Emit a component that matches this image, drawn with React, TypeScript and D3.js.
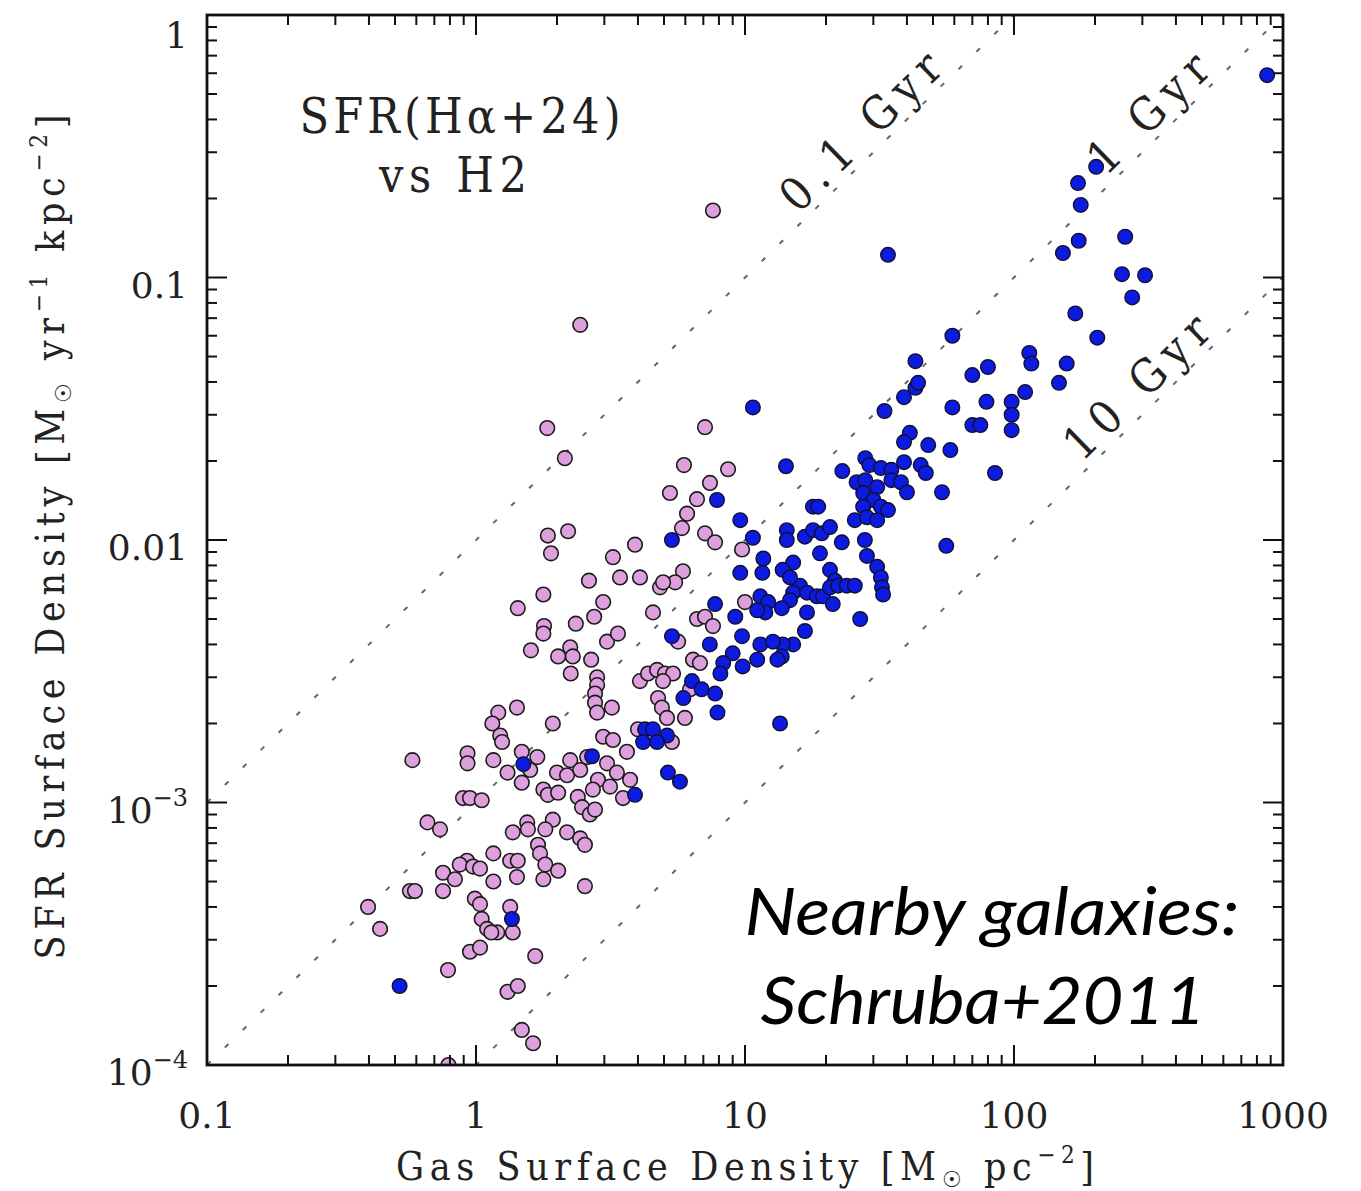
import React from 'react';
import * as d3 from 'd3';

// [gas surface density (Msun/pc^2), SFR surface density (Msun/yr/kpc^2)]
const pinkPoints: [number, number][] = [
  [7.6, 0.18], [2.44, 0.066], [1.84, 0.0267], [2.14, 0.0205], [1.85, 0.0104], [2.2, 0.0108],
  [1.9, 0.0089], [3.23, 0.0086], [2.63, 0.007], [3.43, 0.0072], [1.78, 0.0062], [1.43, 0.0055],
  [2.97, 0.0058], [2.75, 0.0051], [2.35, 0.0048], [1.79, 0.0047], [1.78, 0.0044], [3.07, 0.0041],
  [3.37, 0.0044], [1.6, 0.0038], [2.24, 0.0039], [2.29, 0.0036], [2.02, 0.0036], [2.68, 0.0035],
  [2.25, 0.0031], [2.82, 0.003], [2.82, 0.0028], [2.77, 0.0026], [3.2, 0.0023], [2.77, 0.0024],
  [2.82, 0.0022], [1.21, 0.0022], [1.42, 0.0023], [1.15, 0.002], [1.23, 0.0018], [1.25, 0.0017],
  [1.93, 0.002], [0.58, 0.00145], [0.93, 0.00154], [0.93, 0.00141], [1.16, 0.00145], [1.48, 0.00156],
  [1.69, 0.00149], [1.31, 0.0013], [1.59, 0.00133], [1.48, 0.00119], [2.0, 0.0013], [2.18, 0.00127],
  [2.24, 0.00145], [2.44, 0.00133], [2.59, 0.00149], [2.97, 0.00178], [3.23, 0.00173], [3.07, 0.00141],
  [3.34, 0.0013], [2.84, 0.00122], [3.15, 0.00115], [1.78, 0.00112], [1.85, 0.00107], [2.02, 0.00109],
  [2.39, 0.00105], [2.48, 0.00096], [2.65, 0.0009], [0.895, 0.00104], [0.95, 0.00104], [1.05, 0.00102],
  [0.66, 0.00084], [0.735, 0.00079], [1.37, 0.00077], [1.55, 0.00084], [1.56, 0.00079], [1.93, 0.00086],
  [1.81, 0.00079], [2.18, 0.00077], [2.44, 0.00073], [2.54, 0.00069], [1.7, 0.00069], [1.73, 0.00064],
  [1.16, 0.00064], [0.926, 0.0006], [0.87, 0.00058], [0.975, 0.00057], [1.035, 0.00056], [0.754, 0.00054],
  [0.835, 0.00051], [1.34, 0.0006], [1.43, 0.0006], [1.81, 0.00058], [2.02, 0.00055], [1.16, 0.0005],
  [1.42, 0.00052], [1.78, 0.00051], [0.754, 0.00046], [2.54, 0.00048], [0.568, 0.00046], [0.593, 0.00046],
  [0.397, 0.0004], [0.44, 0.00033], [0.99, 0.00043], [1.035, 0.00041], [1.05, 0.00036], [1.1, 0.00033],
  [1.2, 0.00032], [1.14, 0.00032], [1.34, 0.0004], [1.37, 0.00032], [0.95, 0.00027], [1.035, 0.00028],
  [1.66, 0.00026], [0.787, 0.00023], [1.31, 0.00019], [1.43, 0.0002], [1.48, 0.000136], [1.63, 0.000121],
  [0.79, 0.0001], [5.93, 0.0193], [8.65, 0.0186], [7.41, 0.0165], [5.26, 0.0151], [6.63, 0.0143],
  [6.09, 0.0126], [5.83, 0.0111], [7.1, 0.0106], [7.74, 0.0098], [3.9, 0.0096], [9.75, 0.0092],
  [4.07, 0.0072], [5.88, 0.0076], [5.5, 0.0069], [4.83, 0.0066], [4.96, 0.0069], [4.55, 0.0053],
  [10, 0.0058], [6.63, 0.005], [7.1, 0.0051], [7.6, 0.0047], [5.64, 0.0041], [6.41, 0.0035],
  [6.8, 0.0034], [4.07, 0.0029], [4.36, 0.0031], [4.71, 0.0032], [5.04, 0.0031], [5.4, 0.0031],
  [4.96, 0.0029], [6.25, 0.0027], [4.75, 0.0025], [4.91, 0.0023], [5.13, 0.0021], [5.98, 0.0021],
  [4.0, 0.0019], [3.64, 0.00156], [5.35, 0.0017], [3.74, 0.00122], [3.52, 0.00104], [2.72, 0.00112],
  [2.77, 0.00094], [7.1, 0.0269],
];

const bluePoints: [number, number][] = [
  [873, 0.59], [202, 0.264], [173, 0.229], [177, 0.189], [174, 0.138], [152, 0.124], [259, 0.143],
  [252, 0.103], [307, 0.102], [275, 0.084], [169, 0.073], [204, 0.059], [157, 0.047], [147, 0.0397],
  [114, 0.0516], [116, 0.047], [110, 0.0366], [98, 0.0336], [98, 0.03], [98, 0.0262], [80, 0.0456],
  [79, 0.0336], [85, 0.018], [34, 0.122], [10.7, 0.032], [59, 0.06], [43, 0.048], [70, 0.0425],
  [39, 0.035], [43, 0.038], [44, 0.0397], [33, 0.031], [59, 0.032], [70, 0.0274], [75, 0.0274],
  [41, 0.0256], [39, 0.0236], [48, 0.023], [58, 0.022], [14.2, 0.0191], [23, 0.0183], [28, 0.0205],
  [29, 0.0193], [32, 0.0188], [35, 0.0185], [39, 0.0198], [45, 0.0193], [47, 0.018], [26, 0.0166],
  [28, 0.0169], [31, 0.0159], [35, 0.0169], [38, 0.0166], [40, 0.0152], [54, 0.0152], [27.5, 0.0151],
  [30, 0.0142], [32, 0.0134], [34, 0.013], [27.5, 0.0134], [25.6, 0.0119], [28.4, 0.0122], [31, 0.0119],
  [17.9, 0.0134], [18.7, 0.0134], [14.3, 0.0109], [14.3, 0.01], [16.7, 0.0103], [17.9, 0.0109],
  [19.3, 0.0106], [20.7, 0.0112], [22.9, 0.0098], [19, 0.0089], [27.9, 0.01], [28.4, 0.0087],
  [56, 0.0095], [15.1, 0.0082], [13.8, 0.0077], [20.7, 0.0077], [21.6, 0.007], [31, 0.0079],
  [32, 0.0072], [32.3, 0.0066], [32.6, 0.0062], [16, 0.0067], [15.1, 0.0063], [14.7, 0.0059],
  [17, 0.0063], [18.5, 0.0061], [19.5, 0.0061], [20.7, 0.0066], [22.2, 0.0067], [23.9, 0.0067],
  [25.6, 0.0067], [21.2, 0.0057], [17, 0.0053], [13.7, 0.0055], [26.8, 0.005], [16.7, 0.0045],
  [15.1, 0.004], [13.8, 0.004], [13.7, 0.0036], [7.87, 0.0142], [9.6, 0.0119], [5.35, 0.01],
  [10.7, 0.0102], [11.7, 0.0085], [11.6, 0.0075], [9.6, 0.0075], [14.7, 0.0072], [7.74, 0.0057],
  [11.4, 0.0061], [12.2, 0.0058], [11.9, 0.0053], [11.1, 0.0054], [9.2, 0.0051], [5.35, 0.0043],
  [9.75, 0.0043], [7.4, 0.004], [11.4, 0.004], [12.7, 0.0041], [9.0, 0.0037], [11.1, 0.0035],
  [13.2, 0.0035], [8.3, 0.0034], [9.8, 0.0033], [8.1, 0.0031], [6.35, 0.0029], [6.9, 0.0027],
  [7.74, 0.0026], [5.9, 0.0025], [7.9, 0.0022], [13.5, 0.002], [4.25, 0.0019], [4.55, 0.0019],
  [5.13, 0.0018], [4.18, 0.0017], [4.71, 0.0017], [5.17, 0.0013], [5.73, 0.0012], [3.9, 0.00107],
  [1.5, 0.0014], [2.7, 0.0015], [1.36, 0.00036], [0.52, 0.0002],
];

// Constant gas depletion times (Gyr): SFR = gas * 1e-3 / t
const depletionTimesGyr = [0.1, 1, 10];
const depletionLabels = ['0.1 Gyr', '1 Gyr', '10 Gyr'];
const depletionLabelGas = [31, 364, 330];

const xDomain: [number, number] = [0.1, 1000];
const yDomain: [number, number] = [1e-4, 1];
const xTickValues = [0.1, 1, 10, 100, 1000];
const xTickLabels = ['0.1', '1', '10', '100', '1000'];
const yTickValues = [1, 0.1, 0.01, 0.001, 0.0001];
const yTickBase = ['1', '0.1', '0.01', '10', '10'];
const yTickExp = ['', '', '', '−3', '−4'];

const W = 1361;
const H = 1191;
const plot = { left: 207, right: 1283, top: 15, bottom: 1065 };
const SERIF = "'DejaVu Serif', serif";
const TITLE_FONT = "'DejaVu Serif Condensed', 'DejaVu Serif', serif";

const isDecade = (v: number) => Math.abs(Math.log10(v) - Math.round(Math.log10(v))) < 1e-6;

export default function App() {
  const x = d3.scaleLog().domain(xDomain).range([plot.left, plot.right]);
  const y = d3.scaleLog().domain(yDomain).range([plot.bottom, plot.top]);

  const xMinor = x.ticks().filter((v) => !isDecade(v));
  const yMinor = y.ticks().filter((v) => !isDecade(v));
  const majorLen = 20;
  const minorLen = 10;

  const line = d3
    .line<[number, number]>()
    .x((d) => x(d[0]))
    .y((d) => y(d[1]));

  const depletion = depletionTimesGyr.map((t, i) => {
    const sfr = (g: number) => (g * 1e-3) / t;
    const pts: [number, number][] = [
      [xDomain[0], sfr(xDomain[0])],
      [xDomain[1], sfr(xDomain[1])],
    ];
    const a = Math.atan2(y(sfr(xDomain[1])) - y(sfr(xDomain[0])), x(xDomain[1]) - x(xDomain[0]));
    const g = depletionLabelGas[i];
    const off = 24;
    const lx = x(g) + off * Math.sin(a);
    const ly = y(sfr(g)) - off * Math.cos(a);
    return { d: line(pts) as string, label: depletionLabels[i], lx, ly, deg: (a * 180) / Math.PI };
  });
  const labelLengths = [205, 150, 184];

  const tickStroke = { stroke: '#111', strokeWidth: 2 };
  const annotFont = "Lato, 'Open Sans', sans-serif";

  return (
    <svg
      width={W}
      height={H}
      viewBox={`0 0 ${W} ${H}`}
      style={{ position: 'absolute', left: 0, top: 0, background: '#fff' }}
    >
      <defs>
        <clipPath id="plot-clip">
          <rect x={plot.left} y={plot.top} width={plot.right - plot.left} height={plot.bottom - plot.top} />
        </clipPath>
      </defs>
      <rect width={W} height={H} fill="#fff" />

      {/* depletion-time lines */}
      <g clipPath="url(#plot-clip)">
        {depletion.map((dl, i) => (
          <path key={i} d={dl.d} fill="none" stroke="#666" strokeWidth={2} strokeDasharray="5 20" />
        ))}
      </g>
      {depletion.map((dl, i) => (
        <text
          key={i}
          x={dl.lx}
          y={dl.ly}
          transform={`rotate(${dl.deg} ${dl.lx} ${dl.ly})`}
          textAnchor="middle"
          dominantBaseline="central"
          fontFamily={TITLE_FONT}
          fontSize={46}
          fill="#222"
          textLength={labelLengths[i]}
          lengthAdjust="spacing"
        >
          {dl.label}
        </text>
      ))}

      {/* data points */}
      <g clipPath="url(#plot-clip)">
        {pinkPoints.map((p, i) => (
          <circle key={'p' + i} cx={x(p[0])} cy={y(p[1])} r={7.3} fill="#dda0dd" stroke="#1c1c1c" strokeWidth={1.6} />
        ))}
        {bluePoints.map((p, i) => (
          <circle key={'b' + i} cx={x(p[0])} cy={y(p[1])} r={7.3} fill="#0d1be0" stroke="#101030" strokeWidth={1.4} />
        ))}
      </g>

      {/* frame */}
      <rect
        x={plot.left}
        y={plot.top}
        width={plot.right - plot.left}
        height={plot.bottom - plot.top}
        fill="none"
        stroke="#111"
        strokeWidth={2.8}
      />

      {/* x ticks, bottom and top */}
      {xTickValues.map((v) => (
        <g key={'xM' + v}>
          <line x1={x(v)} x2={x(v)} y1={plot.bottom} y2={plot.bottom - majorLen} {...tickStroke} />
          <line x1={x(v)} x2={x(v)} y1={plot.top} y2={plot.top + majorLen} {...tickStroke} />
        </g>
      ))}
      {xMinor.map((v) => (
        <g key={'xm' + v}>
          <line x1={x(v)} x2={x(v)} y1={plot.bottom} y2={plot.bottom - minorLen} {...tickStroke} />
          <line x1={x(v)} x2={x(v)} y1={plot.top} y2={plot.top + minorLen} {...tickStroke} />
        </g>
      ))}
      {/* y ticks, left and right */}
      {yTickValues.map((v) => (
        <g key={'yM' + v}>
          <line y1={y(v)} y2={y(v)} x1={plot.left} x2={plot.left + majorLen} {...tickStroke} />
          <line y1={y(v)} y2={y(v)} x1={plot.right} x2={plot.right - majorLen} {...tickStroke} />
        </g>
      ))}
      {yMinor.map((v) => (
        <g key={'ym' + v}>
          <line y1={y(v)} y2={y(v)} x1={plot.left} x2={plot.left + minorLen} {...tickStroke} />
          <line y1={y(v)} y2={y(v)} x1={plot.right} x2={plot.right - minorLen} {...tickStroke} />
        </g>
      ))}

      {/* x tick labels */}
      {xTickValues.map((v, i) => (
        <text key={'xl' + v} x={x(v)} y={1128} textAnchor="middle" fontFamily={SERIF} fontSize={36} fill="#222">
          {xTickLabels[i]}
        </text>
      ))}
      {/* y tick labels */}
      {yTickValues.map((v, i) => {
        const cy = Math.max(y(v) + 7, 35);
        return (
          <text key={'yl' + v} x={188} y={cy + 13} textAnchor="end" fontFamily={SERIF} fontSize={36} fill="#222">
            {yTickBase[i]}
            {yTickExp[i] && (
              <tspan fontSize={24} dy={-17}>
                {yTickExp[i]}
              </tspan>
            )}
          </text>
        );
      })}

      {/* axis titles */}
      <text
        x={(plot.left + plot.right) / 2}
        y={1180}
        textAnchor="middle"
        fontFamily={TITLE_FONT}
        fontSize={39}
        fill="#222"
        textLength={698}
        lengthAdjust="spacing"
      >
        Gas Surface Density [M
        <tspan fontSize={22} dy={7}>☉</tspan>
        <tspan dy={-7}> pc</tspan>
        <tspan fontSize={24} dy={-17}>−2</tspan>
        <tspan dy={17}>]</tspan>
      </text>
      <text
        transform={`translate(64, ${(plot.top + plot.bottom) / 2 - 3}) rotate(-90)`}
        textAnchor="middle"
        fontFamily={TITLE_FONT}
        fontSize={39}
        fill="#222"
        textLength={845}
        lengthAdjust="spacing"
      >
        SFR Surface Density [M
        <tspan fontSize={22} dy={7}>☉</tspan>
        <tspan dy={-7}> yr</tspan>
        <tspan fontSize={24} dy={-17}>−1</tspan>
        <tspan dy={17}> kpc</tspan>
        <tspan fontSize={24} dy={-17}>−2</tspan>
        <tspan dy={17}>]</tspan>
      </text>

      {/* panel title */}
      <text x={460} y={133} textAnchor="middle" fontFamily={TITLE_FONT} fontSize={48} fill="#222" textLength={321} lengthAdjust="spacing">
        SFR(Hα+24)
      </text>
      <text x={453} y={192} textAnchor="middle" fontFamily={TITLE_FONT} fontSize={48} fill="#222" textLength={148} lengthAdjust="spacing">
        vs H2
      </text>

      {/* source annotation */}
      <text x={992} y={935} textAnchor="middle" fontFamily={annotFont} fontStyle="italic" fontSize={66} fill="#000" textLength={495} lengthAdjust="spacingAndGlyphs">
        Nearby galaxies:
      </text>
      <text x={983} y={1024} textAnchor="middle" fontFamily={annotFont} fontStyle="italic" fontSize={66} fill="#000" textLength={445} lengthAdjust="spacingAndGlyphs">
        Schruba+2011
      </text>
    </svg>
  );
}
